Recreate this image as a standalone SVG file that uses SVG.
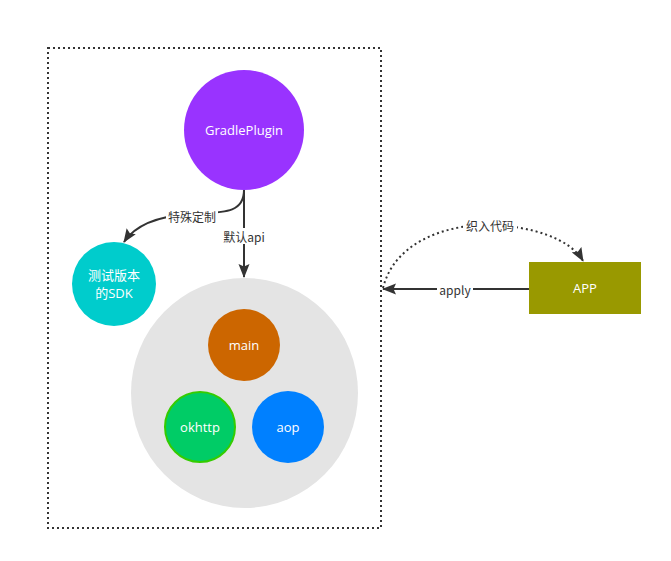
<svg xmlns="http://www.w3.org/2000/svg" width="671" height="561" viewBox="0 0 671 561">
  <defs>
    <marker id="head" viewBox="0 0 14 12" refX="13" refY="6" markerWidth="14" markerHeight="12" markerUnits="userSpaceOnUse" orient="auto">
      <path d="M0,0.5 L14,6 L0,11.5 L2.5,6 z" fill="#333333"/>
    </marker>
    <style>
      .label { font-family: "Noto Sans CJK SC", "Open Sans", sans-serif; font-size: 12px; fill: #333333; text-anchor: middle; dominant-baseline: central; }
      .node-text { font-family: "Open Sans", "Noto Sans CJK SC", sans-serif; font-size: 13px; fill: #ffffff; text-anchor: middle; dominant-baseline: central; }
      .edge { fill: none; stroke: #333333; stroke-width: 2; }
      .label-bg { fill: #ffffff; }
    </style>
  </defs>

  <rect width="671" height="561" fill="#ffffff"/>

  <!-- module boundary -->
  <rect id="boundary" x="48" y="48" width="333" height="480" fill="none" stroke="#333333" stroke-width="2" stroke-dasharray="2,3"/>

  <!-- SDK container -->
  <g id="sdk">
    <ellipse cx="244.5" cy="393" rx="113.5" ry="115" fill="#e4e4e4"/>
  </g>

  <g id="gradleplugin">
    <circle cx="244" cy="130" r="60" fill="#9933ff"/>
    <text class="node-text" x="244" y="130">GradlePlugin</text>
  </g>

  <g id="test-sdk">
    <circle cx="114" cy="284" r="42" fill="#00cccc"/>
    <text class="node-text" x="114" y="275">测试版本</text>
    <text class="node-text" x="114" y="293">的SDK</text>
  </g>

  <g id="main">
    <circle cx="244" cy="345" r="36" fill="#cc6600"/>
    <text class="node-text" x="244" y="345">main</text>
  </g>

  <g id="okhttp">
    <circle cx="200" cy="427" r="35" fill="#00cc66" stroke="#33cc00" stroke-width="2"/>
    <text class="node-text" x="200" y="427">okhttp</text>
  </g>

  <g id="aop">
    <circle cx="288" cy="427" r="36" fill="#0080ff"/>
    <text class="node-text" x="288" y="427">aop</text>
  </g>

  <g id="app">
    <rect x="529" y="262" width="112" height="52" fill="#999900"/>
    <text class="node-text" x="585" y="288">APP</text>
  </g>

  <!-- connectors -->
  <g id="connectors">
    <path class="edge" d="M244,190 L244,277" marker-end="url(#head)"/>
    <rect class="label-bg" x="220" y="228" width="48" height="16"/>
    <text class="label" x="244" y="236">默认api</text>

    <path class="edge" d="M244,190 C244,215 220,212 190,214 C160,216 136,224 124,242" marker-end="url(#head)"/>
    <rect class="label-bg" x="166" y="208" width="52" height="16"/>
    <text class="label" x="192" y="216">特殊定制</text>

    <path class="edge" d="M529,289 L383,289" marker-end="url(#head)"/>
    <rect class="label-bg" x="437" y="281" width="36" height="16"/>
    <text class="label" x="455" y="289">apply</text>

    <path class="edge" d="M383,288 C395,240 450,224 490,225 C530,226 570,238 583,261" stroke-dasharray="2,3" marker-end="url(#head)"/>
    <rect class="label-bg" x="463" y="217" width="54" height="16"/>
    <text class="label" x="490" y="225">织入代码</text>
  </g>
</svg>
